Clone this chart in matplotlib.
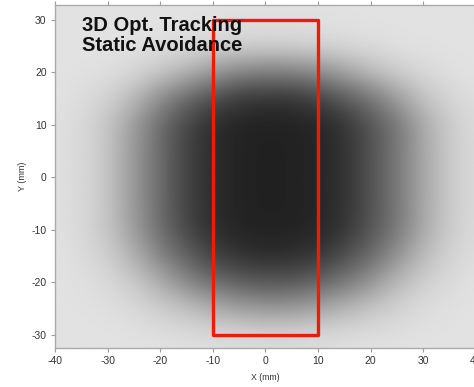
import numpy as np
import matplotlib
matplotlib.use("Agg")
import matplotlib.pyplot as plt
from matplotlib.patches import Rectangle

# Grid sample positions (mm)
grid_x = [-40, -35, -30, -25, -20, -15, -10, -5, 0, 5, 10, 15, 20, 25, 30, 35, 40]
grid_y = [35, 30, 25, 20, 15, 10, 5, 0, -5, -10, -15, -20, -25, -30, -35]

# Gray level (0=black, 255=white), rows top->bottom
gray = [
    [226, 226, 226, 226, 226, 226, 226, 226, 226, 226, 226, 226, 226, 226, 226, 226, 226],
    [226, 226, 226, 226, 226, 226, 225, 224, 223, 223, 224, 225, 226, 226, 226, 226, 226],
    [226, 226, 226, 225, 222, 219, 215, 211, 210, 211, 213, 217, 220, 224, 225, 226, 226],
    [226, 225, 222, 214, 199, 179, 155, 137, 130, 133, 145, 166, 189, 206, 217, 223, 226],
    [225, 220, 209, 184, 141, 107, 80, 61, 55, 57, 70, 94, 122, 160, 196, 214, 222],
    [224, 216, 196, 154, 108, 70, 46, 36, 34, 35, 39, 55, 87, 123, 172, 204, 219],
    [224, 216, 195, 151, 105, 66, 44, 35, 33, 34, 38, 52, 84, 122, 169, 203, 218],
    [224, 216, 195, 151, 105, 66, 44, 35, 33, 34, 38, 52, 84, 122, 169, 203, 218],
    [224, 216, 195, 151, 105, 66, 44, 35, 33, 34, 38, 52, 84, 122, 169, 203, 218],
    [224, 216, 196, 154, 108, 70, 46, 36, 34, 35, 39, 55, 87, 123, 172, 204, 219],
    [225, 219, 205, 174, 129, 95, 64, 50, 45, 47, 55, 78, 108, 148, 188, 211, 221],
    [226, 223, 216, 199, 170, 134, 108, 93, 85, 88, 100, 120, 149, 185, 207, 218, 225],
    [226, 225, 222, 216, 204, 190, 172, 157, 150, 152, 164, 180, 197, 210, 219, 224, 226],
    [226, 226, 226, 224, 221, 219, 216, 214, 213, 213, 215, 218, 220, 222, 225, 226, 226],
    [226, 226, 226, 226, 226, 225, 224, 223, 222, 222, 223, 225, 226, 226, 226, 226, 226],
]

# Region of interest (mm)
roi_x = [-10, 10]
roi_y = [-30, 30]

x_ticks = [-40, -30, -20, -10, 0, 10, 20, 30, 40]
y_ticks = [-30, -20, -10, 0, 10, 20, 30]
title_lines = ["3D Opt. Tracking", "Static Avoidance"]

plt.rcParams['font.family'] = ['Liberation Sans', 'DejaVu Sans']

# --- smooth rendering of the sampled field (bilinear + light box blur) ---
g = np.array(gray, dtype=float)
gx = np.array(grid_x, dtype=float)
gy = np.array(grid_y, dtype=float)[::-1]
g = g[::-1]  # rows bottom->top to match ascending gy
step = 0.25
fx = np.arange(gx[0], gx[-1] + step / 2, step)
fy = np.arange(gy[0], gy[-1] + step / 2, step)
tmp = np.array([np.interp(fx, gx, row) for row in g])            # (ny, nfx)
fine = np.array([np.interp(fy, gy, col) for col in tmp.T]).T     # (nfy, nfx)


def box_blur(a, n, axis):
    pad = [(0, 0), (0, 0)]
    pad[axis] = (n // 2, n - 1 - n // 2)
    ap = np.pad(a, pad, mode='edge')
    c = np.cumsum(ap, axis=axis)
    c = np.insert(c, 0, 0, axis=axis)
    if axis == 0:
        return (c[n:, :] - c[:-n, :]) / n
    return (c[:, n:] - c[:, :-n]) / n


k = int(4.0 / step)
for _ in range(2):
    fine = box_blur(fine, k, 0)
    fine = box_blur(fine, k, 1)

fig = plt.figure(figsize=(4.74, 3.87), dpi=100)
ax = fig.add_axes([0.116, 0.1008, 0.888, 0.886])

ax.imshow(fine, cmap='gray', vmin=0, vmax=255, origin='lower',
          interpolation='bilinear', aspect='auto',
          extent=(fx[0] - step / 2, fx[-1] + step / 2, fy[0] - step / 2, fy[-1] + step / 2))

ax.add_patch(Rectangle((roi_x[0], roi_y[0]), roi_x[1] - roi_x[0], roi_y[1] - roi_y[0],
                       fill=False, edgecolor='#f01a0c', linewidth=2.4, joinstyle='round'))

ax.text(-34.9, 30.8, "\n".join(title_lines), fontsize=14.5, fontweight='bold',
        color='#111111', va='top', ha='left', linespacing=1.12)

ax.set_xlim(-40, 40)
ax.set_ylim(-32.5, 32.8)
ax.set_xticks(x_ticks)
ax.set_yticks(y_ticks)
ax.set_xticklabels([str(v) for v in x_ticks])
ax.set_yticklabels([str(v) for v in y_ticks])
ax.tick_params(axis='both', direction='out', length=3, width=0.8, color='#999999',
               labelsize=7.5, labelcolor='#333333', pad=3, top=True)
for s in ['left', 'bottom', 'top', 'right']:
    ax.spines[s].set_color('#aaaaaa')
    ax.spines[s].set_linewidth(1.0)

ax.set_xlabel("X (mm)", fontsize=6.3, color='#333333', labelpad=5)
ax.set_ylabel("Y (mm)", fontsize=6.5, color='#333333', labelpad=3)

fig.savefig("out.png", dpi=100, facecolor='white')
